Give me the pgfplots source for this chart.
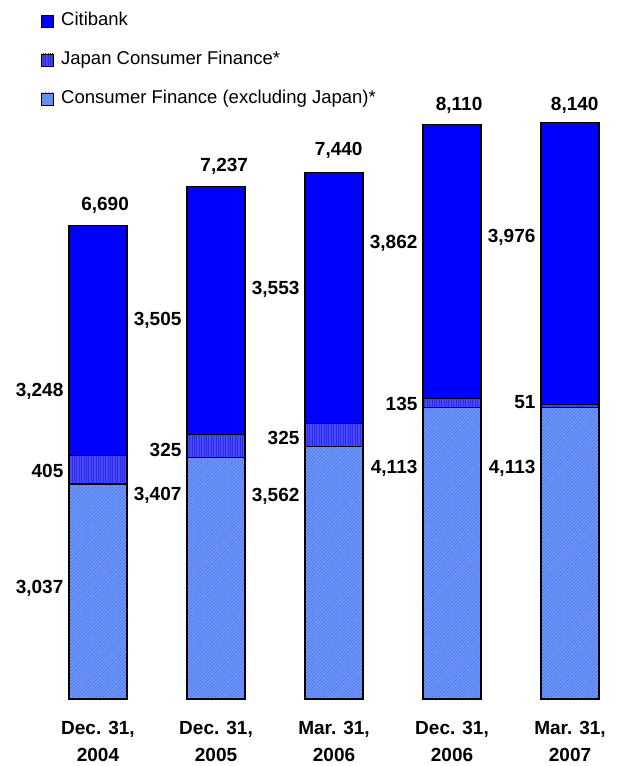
\documentclass[border=0pt]{standalone}
\usepackage{fontspec}
\setmainfont{Liberation Sans}
\usepackage{pgfplots}
\usepackage{pgfplotstable}
\pgfplotsset{compat=1.18}
\usetikzlibrary{patterns.meta}

\definecolor{citi}{RGB}{0,0,255}
\definecolor{jpfill}{RGB}{72,72,255}
\definecolor{jpline}{RGB}{45,45,225}
\definecolor{cffill}{RGB}{115,155,252}
\definecolor{cfline}{RGB}{75,115,235}

% stacked values, bottom to top
\pgfplotstableread{
x cf japan citi
0 3037 405 3248
1 3407 325 3505
2 3562 325 3553
3 4113 135 3862
4 4113 51 3976
}\bars

% segment labels, right-aligned left of each bar
\pgfplotstableread{
x y lab
-0.29 4350 {3,248}
-0.29 3220 {405}
-0.29 1568 {3,037}
0.71 5353 {3,505}
0.71 3517 {325}
0.71 2881 {3,407}
1.71 5791 {3,553}
1.71 3686 {325}
1.71 2867 {3,562}
2.71 6441 {3,862}
2.71 4167 {135}
2.71 3263 {4,113}
3.71 6525 {3,976}
3.71 4195 {51}
3.71 3263 {4,113}
}\seglabels

% totals above the bars
\pgfplotstableread{
x y lab
0.06 6977 {6,690}
1.07 7528 {7,237}
2.04 7754 {7,440}
3.06 8390 {8,110}
4.04 8390 {8,140}
}\totals

\newcommand{\lblfont}{\fontsize{9.5}{11}\selectfont\bfseries}

\begin{document}
\begin{tikzpicture}
\pgfplotsset{base/.style={scale only axis, width=309pt, height=349.5pt,
  xmin=-0.8305, xmax=4.4068, ymin=0, ymax=9873, clip=false}}

\begin{axis}[base, name=ax, ybar stacked, bar width=29pt,
  axis line style={draw=none}, tick style={draw=none}, ytick=\empty,
  xtick={0,...,4},
  xticklabels={{Dec. 31,\\2004},{Dec. 31,\\2005},{Mar. 31,\\2006},{Dec. 31,\\2006},{Mar. 31,\\2007}},
  xticklabel style={align=center, font=\fontsize{9.5}{13.5}\selectfont\bfseries, yshift=-7.5pt},
  reverse legend,
  legend image code/.code={\draw[#1, draw=black, line width=0.4pt] (0pt,-3pt) rectangle (6pt,3pt);},
  legend style={at={(rel axis cs:0.0663,0.9834)}, anchor=north west, draw=none, fill=none,
    inner sep=0pt, row sep=10.5pt, font=\fontsize{9.25}{11}\selectfont,
    nodes={inner sep=0pt, text height=7pt, text depth=2pt},
    /tikz/every odd column/.append style={column sep=3.5pt}},
  legend cell align=left]
\addplot[draw=black, line width=0.6pt, fill=cffill,
  postaction={pattern={Lines[angle=45,distance=1.2pt,line width=0.35pt]}, pattern color=cfline}]
  table[x=x, y=cf] {\bars};
\addlegendentry{Consumer Finance (excluding Japan)*}
\addplot[draw=black, line width=0.6pt, fill=jpfill,
  postaction={pattern={Lines[angle=90,distance=1.2pt,line width=0.4pt]}, pattern color=jpline}]
  table[x=x, y=japan] {\bars};
\addlegendentry{Japan Consumer Finance*}
\addplot[draw=black, line width=0.6pt, fill=citi]
  table[x=x, y=citi] {\bars};
\addlegendentry{Citibank}
\end{axis}

\begin{axis}[base, hide axis]
\addplot[only marks, mark=*, mark size=0pt, mark options={draw=none, fill=none},
  nodes near coords, point meta=explicit symbolic,
  every node near coord/.append style={anchor=east, inner sep=0pt, font=\lblfont}]
  table[x=x, y=y, meta=lab] {\seglabels};
\addplot[only marks, mark=*, mark size=0pt, mark options={draw=none, fill=none},
  nodes near coords, point meta=explicit symbolic,
  every node near coord/.append style={anchor=center, inner sep=0pt, font=\lblfont}]
  table[x=x, y=y, meta=lab] {\totals};
\end{axis}

\pgfresetboundingbox
\path (ax.south west) ++(0,-33.5pt) rectangle (ax.north east);
\end{tikzpicture}
\end{document}
